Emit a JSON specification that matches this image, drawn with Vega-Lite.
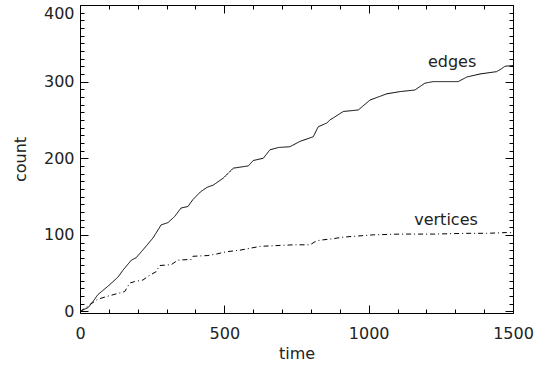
{
  "$schema": "https://vega.github.io/schema/vega-lite/v6.json",
  "width": 433,
  "height": 308,
  "autosize": "none",
  "padding": {"left": 80, "top": 5, "right": 26, "bottom": 54},
  "background": "white",
  "config": {
    "view": {"stroke": "#000", "strokeWidth": 1},
    "axis": {
      "domain": false,
      "grid": false,
      "tickColor": "#000",
      "tickWidth": 1,
      "labelFont": "DejaVu Sans",
      "labelFontSize": 16,
      "labelColor": "#222",
      "titleFont": "DejaVu Sans",
      "titleFontSize": 16,
      "titleFontWeight": "normal",
      "titleColor": "#222"
    }
  },
  "datasets": {
    "lines": [
      {"series": "edges", "time": 0, "count": 0},
      {"series": "edges", "time": 5, "count": 1},
      {"series": "edges", "time": 28, "count": 5},
      {"series": "edges", "time": 45, "count": 13},
      {"series": "edges", "time": 62, "count": 22},
      {"series": "edges", "time": 97, "count": 33},
      {"series": "edges", "time": 132, "count": 45},
      {"series": "edges", "time": 149, "count": 54},
      {"series": "edges", "time": 178, "count": 67},
      {"series": "edges", "time": 194, "count": 70},
      {"series": "edges", "time": 224, "count": 83},
      {"series": "edges", "time": 253, "count": 96},
      {"series": "edges", "time": 281, "count": 113},
      {"series": "edges", "time": 305, "count": 116},
      {"series": "edges", "time": 328, "count": 124},
      {"series": "edges", "time": 350, "count": 135},
      {"series": "edges", "time": 374, "count": 137},
      {"series": "edges", "time": 391, "count": 146},
      {"series": "edges", "time": 417, "count": 156},
      {"series": "edges", "time": 440, "count": 162},
      {"series": "edges", "time": 462, "count": 165},
      {"series": "edges", "time": 496, "count": 174},
      {"series": "edges", "time": 531, "count": 187},
      {"series": "edges", "time": 583, "count": 190},
      {"series": "edges", "time": 600, "count": 197},
      {"series": "edges", "time": 635, "count": 200},
      {"series": "edges", "time": 658, "count": 211},
      {"series": "edges", "time": 687, "count": 214},
      {"series": "edges", "time": 727, "count": 215},
      {"series": "edges", "time": 762, "count": 222},
      {"series": "edges", "time": 808, "count": 228},
      {"series": "edges", "time": 825, "count": 241},
      {"series": "edges", "time": 855, "count": 246},
      {"series": "edges", "time": 866, "count": 250},
      {"series": "edges", "time": 883, "count": 254},
      {"series": "edges", "time": 912, "count": 261},
      {"series": "edges", "time": 964, "count": 263},
      {"series": "edges", "time": 1005, "count": 276},
      {"series": "edges", "time": 1062, "count": 284},
      {"series": "edges", "time": 1109, "count": 287},
      {"series": "edges", "time": 1160, "count": 289},
      {"series": "edges", "time": 1195, "count": 298},
      {"series": "edges", "time": 1224, "count": 300},
      {"series": "edges", "time": 1310, "count": 300},
      {"series": "edges", "time": 1340, "count": 306},
      {"series": "edges", "time": 1386, "count": 310},
      {"series": "edges", "time": 1443, "count": 313},
      {"series": "edges", "time": 1461, "count": 317},
      {"series": "edges", "time": 1472, "count": 320},
      {"series": "edges", "time": 1500, "count": 321},
      {"series": "vertices", "time": 0, "count": 0},
      {"series": "vertices", "time": 5, "count": 1},
      {"series": "vertices", "time": 34, "count": 9},
      {"series": "vertices", "time": 62, "count": 16},
      {"series": "vertices", "time": 97, "count": 20},
      {"series": "vertices", "time": 155, "count": 26},
      {"series": "vertices", "time": 172, "count": 37},
      {"series": "vertices", "time": 189, "count": 39},
      {"series": "vertices", "time": 218, "count": 41},
      {"series": "vertices", "time": 236, "count": 46},
      {"series": "vertices", "time": 264, "count": 52},
      {"series": "vertices", "time": 276, "count": 60},
      {"series": "vertices", "time": 316, "count": 61},
      {"series": "vertices", "time": 339, "count": 67},
      {"series": "vertices", "time": 386, "count": 68},
      {"series": "vertices", "time": 391, "count": 72},
      {"series": "vertices", "time": 443, "count": 73},
      {"series": "vertices", "time": 473, "count": 75},
      {"series": "vertices", "time": 508, "count": 78},
      {"series": "vertices", "time": 554, "count": 80},
      {"series": "vertices", "time": 624, "count": 85},
      {"series": "vertices", "time": 739, "count": 87},
      {"series": "vertices", "time": 797, "count": 87},
      {"series": "vertices", "time": 814, "count": 91},
      {"series": "vertices", "time": 831, "count": 93},
      {"series": "vertices", "time": 877, "count": 95},
      {"series": "vertices", "time": 912, "count": 97},
      {"series": "vertices", "time": 1016, "count": 100},
      {"series": "vertices", "time": 1109, "count": 101},
      {"series": "vertices", "time": 1224, "count": 101},
      {"series": "vertices", "time": 1340, "count": 102},
      {"series": "vertices", "time": 1409, "count": 102},
      {"series": "vertices", "time": 1478, "count": 103},
      {"series": "vertices", "time": 1500, "count": 103}
    ],
    "labels": [
      {"label": "edges", "time": 1289, "count": 326},
      {"label": "vertices", "time": 1268, "count": 120}
    ]
  },
  "layer": [
    {
      "data": {"name": "lines"},
      "mark": {"type": "line", "color": "#000", "strokeWidth": 1, "clip": true},
      "encoding": {
        "x": {
          "field": "time", "type": "quantitative",
          "scale": {"domain": [0, 1500], "nice": false, "zero": false},
          "axis": {
            "orient": "bottom",
            "title": "time",
            "format": "d",
            "values": [0, 100, 200, 300, 400, 500, 600, 700, 800, 900, 1000, 1100, 1200, 1300, 1400, 1500],
            "labelExpr": "datum.value % 500 === 0 ? datum.label : ''",
            "tickSize": {"condition": {"test": "datum.value % 500 === 0", "value": -8}, "value": -4},
            "labelPadding": 20,
            "labelFlush": false,
            "titlePadding": 4
          }
        },
        "y": {
          "field": "count", "type": "quantitative",
          "scale": {"domain": [-2, 400], "nice": false, "zero": false},
          "axis": {
            "orient": "left",
            "title": "count",
            "format": "d",
            "values": [0, 10, 20, 30, 40, 50, 60, 70, 80, 90, 100, 110, 120, 130, 140, 150, 160, 170, 180, 190, 200, 210, 220, 230, 240, 250, 260, 270, 280, 290, 300, 310, 320, 330, 340, 350, 360, 370, 380, 390, 400],
            "labelExpr": "datum.value % 100 === 0 ? datum.label : ''",
            "tickSize": {"condition": {"test": "datum.value % 100 === 0", "value": -8}, "value": -4},
            "labelPadding": 14,
            "labelFlush": true,
            "titlePadding": 15
          }
        },
        "strokeDash": {
          "field": "series", "type": "nominal",
          "scale": {"domain": ["edges", "vertices"], "range": [[1, 0], [5, 3, 1, 3]]},
          "legend": null
        }
      }
    },
    {
      "data": {"name": "labels"},
      "mark": {"type": "text", "font": "DejaVu Sans", "fontSize": 16, "color": "#222", "align": "center", "baseline": "middle"},
      "encoding": {
        "x": {
          "field": "time", "type": "quantitative",
          "axis": {
            "orient": "top",
            "title": null,
            "labels": false,
            "values": [0, 100, 200, 300, 400, 500, 600, 700, 800, 900, 1000, 1100, 1200, 1300, 1400, 1500],
            "tickSize": {"condition": {"test": "datum.value % 500 === 0", "value": -8}, "value": -4}
          }
        },
        "y": {
          "field": "count", "type": "quantitative",
          "axis": {
            "orient": "right",
            "title": null,
            "labels": false,
            "values": [0, 10, 20, 30, 40, 50, 60, 70, 80, 90, 100, 110, 120, 130, 140, 150, 160, 170, 180, 190, 200, 210, 220, 230, 240, 250, 260, 270, 280, 290, 300, 310, 320, 330, 340, 350, 360, 370, 380, 390, 400],
            "tickSize": {"condition": {"test": "datum.value % 100 === 0", "value": -8}, "value": -4}
          }
        },
        "text": {"field": "label", "type": "nominal"}
      }
    }
  ],
  "resolve": {"axis": {"x": "independent", "y": "independent"}}
}
